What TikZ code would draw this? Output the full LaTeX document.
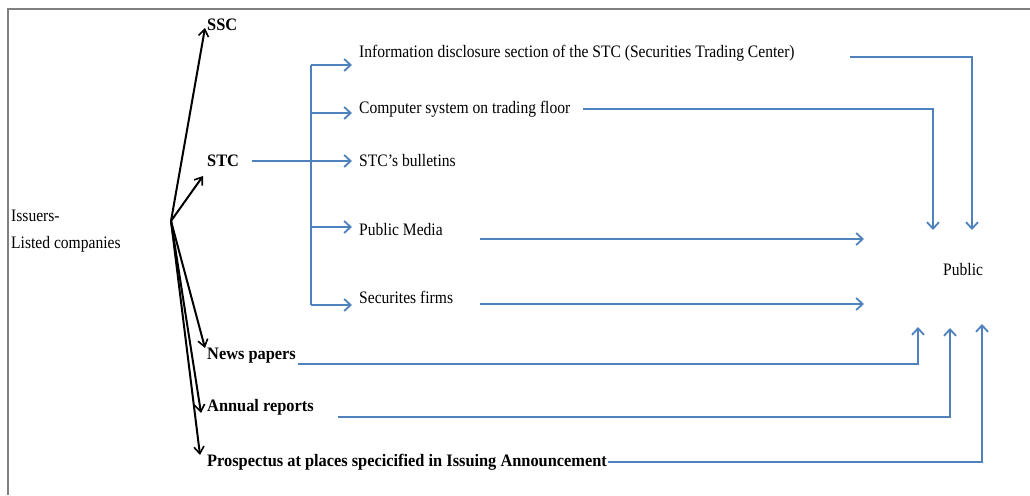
\documentclass[tikz,border=0pt]{standalone}
\usepackage{fontspec}
\setmainfont{Liberation Serif}[FakeStretch=0.89]
\newfontfamily\bfnt{Liberation Serif}[FakeStretch=0.935]
\usetikzlibrary{arrows.meta}
\definecolor{oblue}{RGB}{79,129,189}
\definecolor{frameg}{RGB}{128,128,128}
\begin{document}
\begin{tikzpicture}[x=1pt,y=-1pt,
  lbl/.style={anchor=base west,inner sep=0pt,font=\fontsize{17.5}{20}\selectfont},
  blbl/.style={anchor=base west,inner sep=0pt,font=\fontsize{17.5}{20}\bfnt\bfseries},
  blk/.style={draw=black,line width=2pt,-{Straight Barb[length=7pt,width=10pt,line width=1.6pt]}},
  bl/.style={draw=oblue,line width=2.2pt},
  bla/.style={bl,-{Straight Barb[length=6.5pt,width=12pt,line width=1.8pt]}},
  bus/.style={draw=oblue,line width=2.2pt}]
\useasboundingbox (0,0) rectangle (1030,495);
\draw[frameg,line width=2.4pt] (8,495) -- (8,9) -- (1030,9);

% left labels
\node[lbl] (iss) at (11,221) {Issuers-};
\node[lbl] (lst) at (11,248) {Listed companies};
\node[blbl] (ssc) at (207,31) {SSC};
\node[blbl] (stc) at (207,166) {STC};
\node[blbl] (news) at (207,359) {News papers};
\node[blbl] (ann) at (207,411) {Annual reports};
\node[blbl] (pros) at (207,466) {Prospectus at places specicified in Issuing Announcement};

% middle labels
\node[lbl] (info) at (359,58) {Information disclosure section of the STC (Securities Trading Center)};
\node[lbl] (comp) at (359,113) {Computer system on trading floor};
\node[lbl] (bull) at (359,166) {STC's bulletins};
\node[lbl] (media) at (359,235) {Public Media};
\node[lbl] (firms) at (359,303) {Securites firms};
\node[lbl] (pub) at (943,275) {Public};

% black fan
\coordinate (hub) at (171,221);
\coordinate (sscin) at (205,28);
\coordinate (stcin) at (203,176);
\coordinate (newsin) at (205,348);
\coordinate (annin) at (201,413);
\coordinate (prosin) at (200,455);
\draw[blk] (hub) -- (sscin);
\draw[blk] (hub) -- (stcin);
\draw[blk] (hub) -- (newsin);
\draw[blk] (hub) -- (annin);
\draw[blk] (hub) -- (prosin);

% blue bus
\coordinate (stcout) at (252,161);
\coordinate (bustop) at (311,65);
\coordinate (busbot) at (311,305);
\draw[bus] (bustop) -- (busbot);
\draw[bl] (stcout) -- (311,161);
\draw[bla] (311,65) -- (352,65);
\draw[bla] (311,113) -- (352,113);
\draw[bla] (311,161) -- (352,161);
\draw[bla] (311,227) -- (352,227);
\draw[bla] (311,305) -- (352,305);

% to public
\coordinate (infoout) at (850,57);
\coordinate (compout) at (583,109);
\coordinate (mediaout) at (480,239);
\coordinate (firmsout) at (480,304);
\coordinate (newsout) at (298,364);
\coordinate (annout) at (338,417);
\coordinate (prosout) at (608,462);
\draw[bla] (infoout) -| (972,230);
\draw[bla,line width=1.5pt] (compout) -| (933,230);
\draw[bla] (mediaout) -- (864,239);
\draw[bla] (firmsout) -- (864,304);
\draw[bla] (newsout) -| (918,327);
\draw[bla] (annout) -| (950,328);
\draw[bla] (prosout) -| (982,324);
\end{tikzpicture}
\end{document}
